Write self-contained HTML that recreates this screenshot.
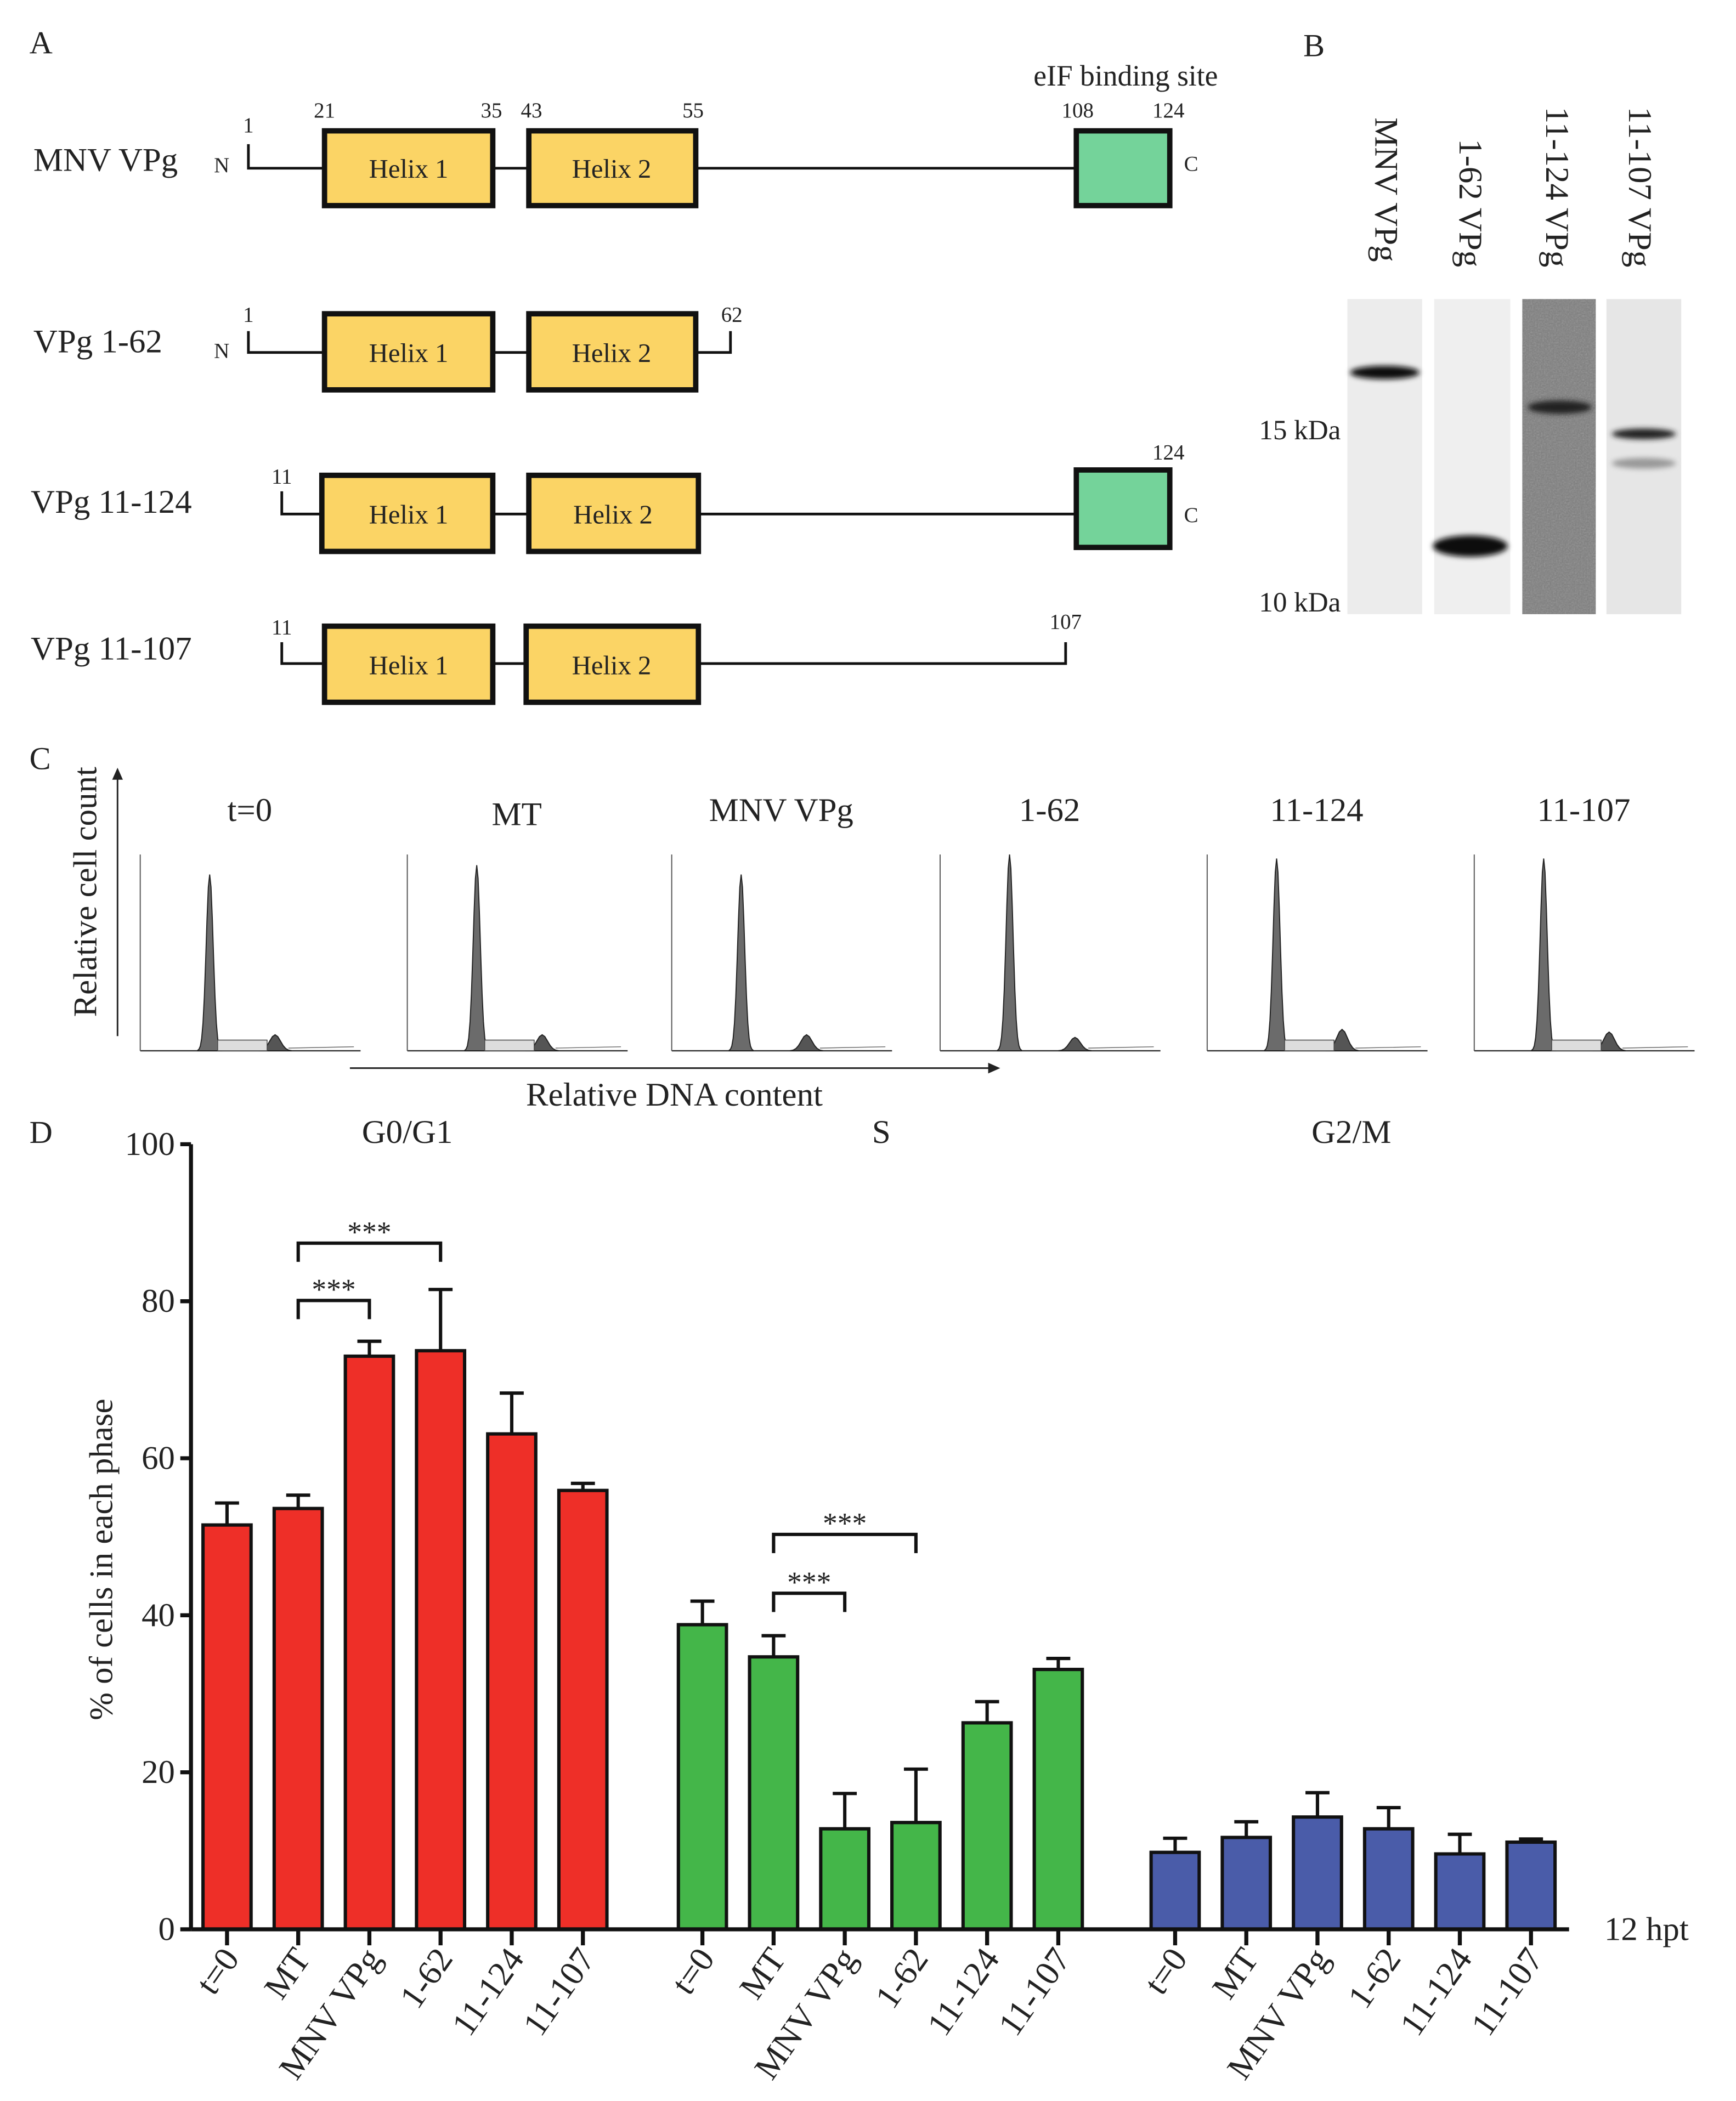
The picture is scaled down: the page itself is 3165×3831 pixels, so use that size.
<!DOCTYPE html>
<html><head><meta charset="utf-8"><style>
html,body{margin:0;padding:0;background:#fff}
svg{display:block}
text{font-family:"Liberation Serif",serif;fill:#222}
</style></head><body>
<svg id="fig" width="3165" height="3831" viewBox="0 0 1300 1573.6" xmlns="http://www.w3.org/2000/svg">
<text x="22" y="40" font-size="24">A</text>
<text x="976" y="42" font-size="24">B</text>
<text x="22" y="576" font-size="24">C</text>
<text x="22" y="856" font-size="24">D</text>

<g id="panelA" stroke="#111" fill="none">
 <g>
  <path d="M186 108 V126 H806" stroke-width="2"/>
  <rect x="243" y="98" width="126" height="56" fill="#fbd465" stroke-width="4"/>
  <rect x="396" y="98" width="125" height="56" fill="#fbd465" stroke-width="4"/>
  <rect x="806" y="98" width="70" height="56" fill="#74d39a" stroke-width="4"/>
 </g>
 <g>
  <path d="M186 248 V264 H547 V248" stroke-width="2"/>
  <rect x="243" y="235" width="126" height="57" fill="#fbd465" stroke-width="4"/>
  <rect x="396" y="235" width="125" height="57" fill="#fbd465" stroke-width="4"/>
 </g>
 <g>
  <path d="M211 368 V385 H806" stroke-width="2"/>
  <rect x="241" y="356" width="128" height="57" fill="#fbd465" stroke-width="4"/>
  <rect x="396" y="356" width="127" height="57" fill="#fbd465" stroke-width="4"/>
  <rect x="806" y="352" width="70" height="58" fill="#74d39a" stroke-width="4"/>
 </g>
 <g>
  <path d="M211 481 V497 H798 V481" stroke-width="2"/>
  <rect x="243" y="469" width="126" height="57" fill="#fbd465" stroke-width="4"/>
  <rect x="394" y="469" width="129" height="57" fill="#fbd465" stroke-width="4"/>
 </g>
</g>
<g font-size="20" text-anchor="middle">
 <text x="306" y="133">Helix 1</text><text x="458" y="133">Helix 2</text>
 <text x="306" y="271">Helix 1</text><text x="458" y="271">Helix 2</text>
 <text x="306" y="392">Helix 1</text><text x="459" y="392">Helix 2</text>
 <text x="306" y="505">Helix 1</text><text x="458" y="505">Helix 2</text>
</g>
<g font-size="25">
 <text x="25" y="128">MNV VPg</text>
 <text x="25" y="264">VPg 1-62</text>
 <text x="23" y="384">VPg 11-124</text>
 <text x="23" y="494">VPg 11-107</text>
</g>
<g font-size="16" text-anchor="middle">
 <text x="166" y="129">N</text><text x="892" y="128">C</text>
 <text x="166" y="268">N</text><text x="892" y="391">C</text>
 <text x="186" y="99">1</text><text x="243" y="88">21</text><text x="368" y="88">35</text><text x="398" y="88">43</text><text x="519" y="88">55</text><text x="807" y="88">108</text><text x="875" y="88">124</text>
 <text x="186" y="241">1</text><text x="548" y="241">62</text>
 <text x="211" y="362">11</text><text x="875" y="344">124</text>
 <text x="211" y="475">11</text><text x="798" y="471">107</text>
</g>
<text x="843" y="64" font-size="22" text-anchor="middle">eIF binding site</text>

<g id="panelB">
 <defs>
  <filter id="noise" x="0" y="0" width="1" height="1"><feTurbulence type="fractalNoise" baseFrequency="0.9" numOctaves="2" seed="3"/><feColorMatrix type="saturate" values="0"/><feComponentTransfer><feFuncA type="table" tableValues="0 0.35"/></feComponentTransfer></filter>
  <filter id="blur"><feGaussianBlur stdDeviation="2"/></filter>
 </defs>
 <rect x="1009" y="224" width="56" height="236" fill="#ececec"/>
 <rect x="1074" y="224" width="57" height="236" fill="#efefef"/>
 <rect x="1140" y="224" width="55" height="236" fill="#7d7d7d"/>
 <rect x="1140" y="224" width="55" height="236" filter="url(#noise)"/>
 <rect x="1203" y="224" width="56" height="236" fill="#e6e6e6"/>
 <g filter="url(#blur)" fill="#111">
  <ellipse cx="1037" cy="279" rx="26" ry="5"/>
  <ellipse cx="1101" cy="409" rx="28" ry="8"/>
  <ellipse cx="1168" cy="305" rx="24" ry="5" fill="#222"/>
  <ellipse cx="1231" cy="325" rx="24" ry="4" fill="#222"/>
  <ellipse cx="1231" cy="347" rx="24" ry="4" fill="#999"/>
 </g>
 <text x="1004" y="329" font-size="21" text-anchor="end">15 kDa</text>
 <text x="1004" y="458" font-size="21" text-anchor="end">10 kDa</text>
 <g font-size="25">
  <text transform="translate(1030,88) rotate(90)">MNV VPg</text>
  <text transform="translate(1093,104) rotate(90)">1-62 VPg</text>
  <text transform="translate(1158,80) rotate(90)">11-124 VPg</text>
  <text transform="translate(1220,80) rotate(90)">11-107 VPg</text>
 </g>
</g>

<g id="panelC"></g>
<g stroke="#222" stroke-width="1.2" fill="#222">
 <line x1="88" y1="776" x2="88" y2="582"/><path d="M84 584 L88 575 L92 584Z" stroke="none"/>
 <line x1="262" y1="800" x2="742" y2="800"/><path d="M740 796 L749 800 L740 804Z" stroke="none"/>
</g>
<text transform="translate(72,668) rotate(-90)" font-size="25" text-anchor="middle">Relative cell count</text>
<text x="505" y="828" font-size="25" text-anchor="middle">Relative DNA content</text>

<g id="panelD"></g>

<script>
const NS='http://www.w3.org/2000/svg';
function mk(tag,attrs,parent,txt){const e=document.createElementNS(NS,tag);for(const k in attrs)e.setAttribute(k,attrs[k]);if(txt!==undefined)e.textContent=txt;parent.appendChild(e);return e;}

const histTitles=['t=0','MT','MNV VPg','1-62','11-124','11-107'];
const histG1Top=[655,648,655,640,643,643];
const histG2Height=[12,12,12,10,16,14];
const histSPlateau=[8,8,1,1,8,8];
const histLefts=[105,305,503,704,904,1104];
const gC=document.getElementById('panelC');
histTitles.forEach((t,i)=>{
 const L=histLefts[i],B=787;
 const g=mk('g',{},gC);
 
 
 mk('line',{x1:L,y1:B,x2:L+165,y2:B,stroke:'#333','stroke-width':1},g);
 mk('line',{x1:L,y1:B,x2:L,y2:640,stroke:'#555','stroke-width':0.8},g);
 const pk=L+52,h=B-histG1Top[i];
 let d=`M${pk-9} ${B}`;
 for(let x=-9;x<=9;x+=1){d+=` L${pk+x} ${B-h*Math.exp(-(x*x)/(2*2.6*2.6))}`;}
 d+=` L${pk+9} ${B}Z`;
 mk('path',{d:d,fill:'#6b6b6b',stroke:'#222','stroke-width':0.8},g);
 const p2=L+101,h2=histG2Height[i];
 let d2=`M${p2-12} ${B}`;
 for(let x=-12;x<=12;x+=2){d2+=` L${p2+x} ${B-h2*Math.exp(-(x*x)/(2*4*4))}`;}
 d2+=` L${p2+12} ${B}Z`;
 mk('path',{d:d2,fill:'#555',stroke:'#222','stroke-width':0.8},g);
 if(histSPlateau[i]>2){mk('path',{d:`M${pk+6} ${B-histSPlateau[i]} L${p2-6} ${B-histSPlateau[i]} L${p2-6} ${B} L${pk+6} ${B}Z`,fill:'#ddd',stroke:'#444','stroke-width':0.6},g);}
 mk('path',{d:`M${p2+10} ${B-2} L${L+160} ${B-3}`,stroke:'#666',fill:'none','stroke-width':0.6},g);
 const tt=mk('text',{x:L+82,y:i===1?618:615,'font-size':25,'text-anchor':'middle'},g,t);
 
 
});

const groups=['G0/G1','S','G2/M'];
const categories=['t=0','MT','MNV VPg','1-62','11-124','11-107'];
const g1Values=[51.5,53.6,73.0,73.7,63.1,55.9];
const g1Errors=[2.8,1.7,1.9,7.8,5.2,0.9];
const sValues=[38.8,34.7,12.8,13.6,26.3,33.1];
const sErrors=[3.0,2.7,4.5,6.8,2.7,1.4];
const g2mValues=[9.8,11.7,14.3,12.8,9.6,11.1];
const g2mErrors=[1.8,2.0,3.1,2.7,2.5,0.4];
const yTicks=[0,20,40,60,80,100];
const colors=['#ee2f28','#44b649','#4a5ca9'];

const gD=document.getElementById('panelD');
const X0=143,Y0=1445,PX=5.88;
const y=v=>Y0-v*PX;
const groupStart=[170,526,880],step=53.3,bw=36;
const xc=(gi,ci)=>groupStart[gi]+ci*step;

const ya=mk('line',{x1:X0,y1:y(0),x2:X0,y2:y(100),stroke:'#111','stroke-width':3},gD);


yTicks.forEach(t=>{
 mk('line',{x1:X0-8,y1:y(t),x2:X0,y2:y(t),stroke:'#111','stroke-width':3},gD);
 const tx=mk('text',{x:X0-12,y:y(t)+8,'font-size':25,'text-anchor':'end'},gD,t);
 
 
});
const yt=mk('text',{transform:`translate(84,${y(50)+17}) rotate(-90)`,'font-size':25,'text-anchor':'middle'},gD,'% of cells in each phase');



const allVals=[g1Values,sValues,g2mValues],allErr=[g1Errors,sErrors,g2mErrors];
groups.forEach((gn,gi)=>{
 const hx=[305,660,1012][gi];
 const ht=mk('text',{x:hx,y:856,'font-size':25,'text-anchor':'middle'},gD,gn);
 
 
 categories.forEach((c,ci)=>{
  const v=allVals[gi][ci],e=allErr[gi][ci],cx=xc(gi,ci);
  const eb=mk('path',{d:`M${cx} ${y(v)} V${y(v+e)} M${cx-9} ${y(v+e)} H${cx+9}`,stroke:'#111','stroke-width':2.5,fill:'none'},gD);
  
  
  const r=mk('rect',{x:cx-bw/2,y:y(v),width:bw,height:Y0-y(v),fill:colors[gi],stroke:'#111','stroke-width':2.5},gD);
  
  
  mk('line',{x1:cx,y1:Y0,x2:cx,y2:Y0+12,stroke:'#111','stroke-width':3},gD);
  const lb=mk('text',{transform:`translate(${cx+10},${Y0+22}) rotate(-55)`,'font-size':26,'text-anchor':'end'},gD,c);
  
  
 });
});
const xa=mk('line',{x1:X0,y1:Y0,x2:1175,y2:Y0,stroke:'#111','stroke-width':3},gD);


const hp=mk('text',{x:1233,y:Y0+8,'font-size':25,'text-anchor':'middle'},gD,'12 hpt');



const sigGroup=[0,0,1,1];
const sigFrom=[1,1,1,1];
const sigTo=[2,3,2,3];
const sigLevel=[80.1,87.4,42.8,50.3];
sigGroup.forEach((gi,k)=>{
 const a=xc(gi,sigFrom[k]),b=xc(gi,sigTo[k]),yy=y(sigLevel[k]);
 const br=mk('path',{d:`M${a} ${yy+14} V${yy} H${b} V${yy+14}`,stroke:'#111','stroke-width':2.5,fill:'none'},gD);
 
 
 const st=mk('text',{x:(a+b)/2,y:yy-1,'font-size':22,'text-anchor':'middle'},gD,'***');
 
 
});
</script>
</svg>
</body></html>
